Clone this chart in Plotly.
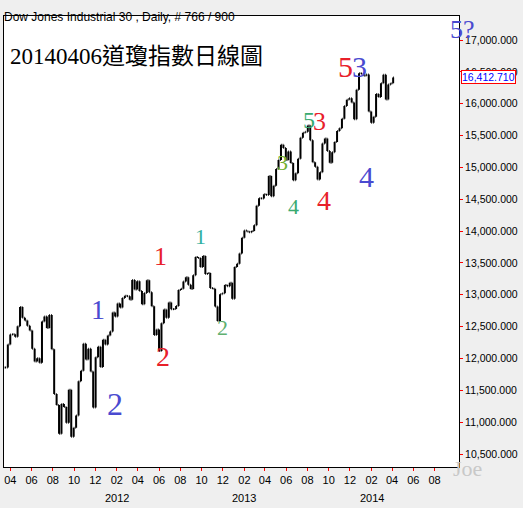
import plotly.graph_objects as go
import pandas as pd

# weekly closes (Dow Jones Industrial 30)
start_week = "2011-03-18"
closes = [
    11858, 12220, 12377, 12380, 12341, 12505, 12810, 12638, 12596, 12512, 12441, 12151,
    11952, 12004, 11934, 12582, 12657, 12479, 12681, 12143, 11444, 11269, 10817, 11284,
    11240, 10992, 11509, 10771, 10913, 11103, 11644, 11808, 12231, 11983, 12153, 11796,
    11231, 12019, 12184, 11866, 12294, 12218,
    12360, 12422, 12720, 12660, 12862, 12801, 12950, 12983, 12978, 12922, 13233, 13081,
    13212, 13060, 12850, 13029, 13228, 13038, 12821, 12369, 12455, 12119, 12554, 12767,
    12640, 12880, 12772, 12777, 12822, 13075, 13096, 13207, 13275, 13157, 13090, 13306,
    13593, 13579, 13437, 13610, 13328, 13343, 13107, 13093, 12815, 12588, 13009, 13025,
    13155, 13135, 13190, 12938,
    13435, 13488, 13650, 13896, 14009, 13993, 13981, 14000, 14090, 14397, 14514, 14512,
    14579, 14565, 14865, 14547, 14712, 14973, 15118, 15354, 15303, 15116, 15248, 15070,
    14800, 14910, 15135, 15464, 15543, 15559, 15658, 15425, 15081, 15010, 14810, 14922,
    15376, 15452, 15258, 15073, 15237, 15400, 15570, 15615, 15762, 15962, 16064, 16086,
    16020, 15755, 16221, 16479,
    16470, 16437, 16459, 15879, 15699, 15794, 16154, 16104, 16322, 16453, 16066, 16303,
    16323, 16412.71,
]
last_price = 16412.71

dates = pd.date_range(start_week, periods=len(closes), freq="7D")
opens = [closes[0]] + closes[:-1]
highs = [max(o, c) for o, c in zip(opens, closes)]
lows = [min(o, c) for o, c in zip(opens, closes)]

month_ticks = pd.date_range("2011-04-01", "2014-08-01", freq="2MS")
month_labels = [d.strftime("%m") for d in month_ticks]
year_labels = ["2012", "2013", "2014"]
year_pos = ["2012-02-01", "2013-02-01", "2014-02-01"]

BLUE = "#4a4ad0"
RED = "#e8202a"
GREEN = "#3aaa70"
# wave labels: text, colour, pixel x, pixel y, size
waves = [
    ("1", BLUE, 89, 327, 28), ("2", BLUE, 105, 424, 32),
    ("1", RED, 152, 256, 26), ("2", RED, 163, 374, 28),
    ("1", "#30b0a0", 200, 236, 22), ("2", "#60b070", 222, 342, 22),
    ("3", "#70b030", 282, 148, 22), ("4", GREEN, 293, 207, 22),
    ("5", GREEN, 317, 105, 24), ("3", RED, 328, 105, 26),
    ("4", RED, 333, 201, 28),
    ("5", RED, 355, 48, 30), ("3", BLUE, 369, 48, 30),
    ("4", BLUE, 376, 158, 30),
]

fig = go.Figure()
fig.add_trace(go.Ohlc(x=dates, open=opens, high=highs, low=lows, close=closes,
                      increasing_line_color="black", decreasing_line_color="black",
                      line_width=2, tickwidth=0.3, hoverinfo="skip"))

L, R, T, B = 4, 459, 16, 467
def px(x): return (x - L) / (R - L)
def py(y): return (B - y) / (B - T)

ann = []
for txt, col, x, y, s in waves:
    ann.append(dict(text=txt, x=px(x), y=py(y), xref="paper", yref="paper", showarrow=False,
                    font=dict(family="Liberation Serif", size=s, color=col)))
ann.append(dict(text="5?", x=px(477), y=py(13), xref="paper", yref="paper", showarrow=False,
                font=dict(family="Liberation Serif", size=26, color=BLUE)))
ann.append(dict(text="Joe", x=px(484), y=py(483), xref="paper", yref="paper", showarrow=False,
                font=dict(family="Liberation Serif", size=22, color="#c8c8c8")))
ann.append(dict(text="Dow Jones Industrial 30 , Daily, # 766 / 900", x=px(2), y=py(8),
                xref="paper", yref="paper", showarrow=False, xanchor="left",
                font=dict(family="Liberation Sans", size=12, color="black")))
ann.append(dict(text="20140406道瓊指數日線圖", x=px(8), y=py(42), xref="paper", yref="paper",
                showarrow=False, xanchor="left",
                font=dict(family="Liberation Serif, Noto Sans CJK TC", size=23, color="black")))
ann.append(dict(text=f"{last_price:,.3f}", x=1.004, y=last_price, xref="paper", yref="y",
                showarrow=False, xanchor="left", bgcolor="white", bordercolor="red",
                borderwidth=1, borderpad=0,
                font=dict(family="Liberation Sans", size=10.5, color="blue")))
for yl, yp in zip(year_labels, year_pos):
    ann.append(dict(text=yl, x=yp, y=py(490), xref="x", yref="paper", showarrow=False,
                    yanchor="top",
                    font=dict(family="Liberation Sans", size=11, color="black")))

fig.update_layout(
    width=523, height=508, margin=dict(l=L, r=523 - R, t=T, b=508 - B),
    paper_bgcolor="#efefef", plot_bgcolor="white", showlegend=False,
    annotations=ann,
    xaxis=dict(range=["2011-03-14", "2014-10-10"], tickvals=month_ticks, ticktext=month_labels,
               showgrid=False, ticks="outside", tickcolor="red", ticklen=3,
               showline=True, linecolor="black", mirror=True, rangeslider_visible=False,
               tickfont=dict(family="Liberation Sans", size=11, color="black")),
    yaxis=dict(range=[10296, 17377], side="right", tickvals=list(range(10500, 17001, 500)),
               tickformat=",.3f", showgrid=False, ticks="outside", tickcolor="red", ticklen=3,
               showline=True, linecolor="black", mirror=True,
               tickfont=dict(family="Liberation Sans", size=10.5, color="black")),
)
fig.write_html("out.html", config={"displayModeBar": False},
               post_script="document.body.style.margin='0';")
